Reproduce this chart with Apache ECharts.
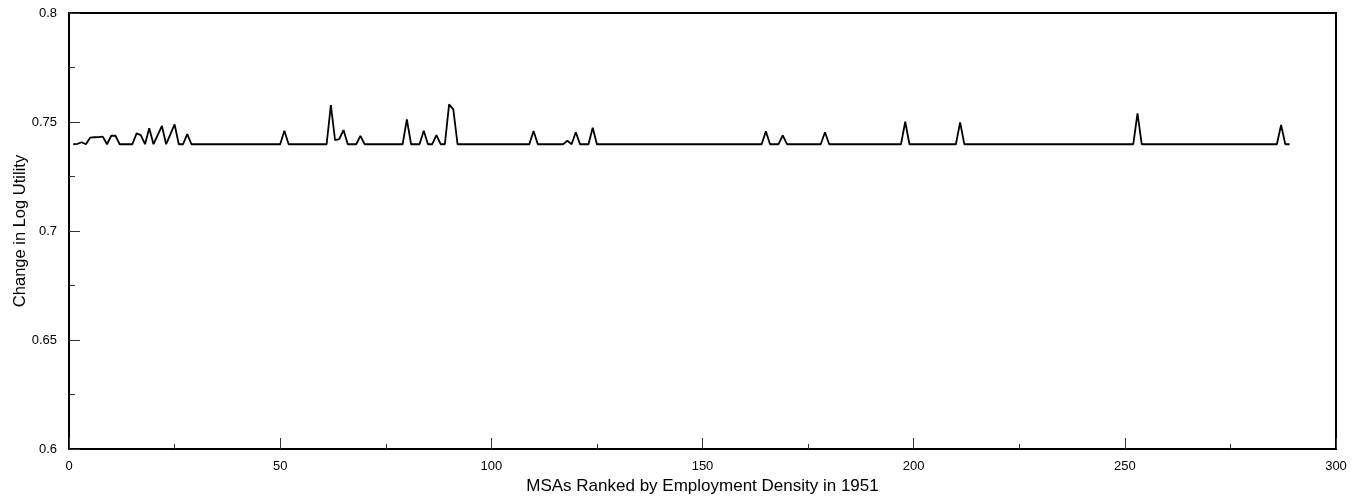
<!DOCTYPE html>
<html>
<head>
<meta charset="utf-8">
<script src="https://cdn.jsdelivr.net/npm/echarts@6/dist/echarts.min.js"></script>
<style>
  html, body { margin: 0; padding: 0; background: #fff; }
  #chart { width: 1366px; height: 500px; }
</style>
</head>
<body>
<div id="chart"></div>
<script>
// flat level that most MSAs sit on
const B = 0.7398

// change in log utility, MSA rank 1..289 (10 per row)
const utilityChange = [
  B, 0.7400, 0.7407, B, 0.7428, 0.7430, 0.7431, 0.7433, B, 0.7437,          // 1-10
  0.7437, B, B, B, B, 0.7448, 0.7440, B, 0.7471, B,                         // 11-20
  0.7440, 0.7482, B, 0.7443, 0.7489, B, B, 0.7444, B, B,                    // 21-30
  B, B, B, B, B, B, B, B, B, B,                                             // 31-40
  B, B, B, B, B, B, B, B, B, B,                                             // 41-50
  0.7460, B, B, B, B, B, B, B, B, B,                                        // 51-60
  B, 0.7577, 0.7417, 0.7422, 0.7463, B, B, B, 0.7436, B,                    // 61-70
  B, B, B, B, B, B, B, B, B, 0.7512,                                        // 71-80
  B, B, B, 0.7460, B, B, 0.7440, B, B, 0.7581,                              // 81-90
  0.7558, B, B, B, B, B, B, B, B, B,                                        // 91-100
  B, B, B, B, B, B, B, B, B, 0.7459,                                        // 101-110
  B, B, B, B, B, B, B, 0.7414, B, 0.7453,                                   // 111-120
  B, B, B, 0.7474, B, B, B, B, B, B,                                        // 121-130
  B, B, B, B, B, B, B, B, B, B,                                             // 131-140
  B, B, B, B, B, B, B, B, B, B,                                             // 141-150
  B, B, B, B, B, B, B, B, B, B,                                             // 151-160
  B, B, B, B, 0.7457, B, B, B, 0.7439, B,                                   // 161-170
  B, B, B, B, B, B, B, B, 0.7453, B,                                        // 171-180
  B, B, B, B, B, B, B, B, B, B,                                             // 181-190
  B, B, B, B, B, B, B, 0.7501, B, B,                                        // 191-200
  B, B, B, B, B, B, B, B, B, B,                                             // 201-210
  0.7498, B, B, B, B, B, B, B, B, B,                                        // 211-220
  B, B, B, B, B, B, B, B, B, B,                                             // 221-230
  B, B, B, B, B, B, B, B, B, B,                                             // 231-240
  B, B, B, B, B, B, B, B, B, B,                                             // 241-250
  B, B, 0.7540, B, B, B, B, B, B, B,                                        // 251-260
  B, B, B, B, B, B, B, B, B, B,                                             // 261-270
  B, B, B, B, B, B, B, B, B, B,                                             // 271-280
  B, B, B, B, B, B, 0.7486, B, B                                            // 281-289
]

const xTicks = [0, 50, 100, 150, 200, 250, 300]
const yTicks = [0.6, 0.65, 0.7, 0.75, 0.8]

let seriesData = []
for (let i = 0; i < utilityChange.length; i++) {
  seriesData.push([i + 1, utilityChange[i]])
}

const font = 'Arial, "Liberation Sans", Helvetica, sans-serif'

let chart = echarts.init(document.getElementById('chart'))
let option = {
  animation: false,
  backgroundColor: '#fff',
  grid: {
    left: 69,
    right: 30,
    top: 13,
    bottom: 51,
    outerBoundsMode: 'none',
    show: true,
    borderColor: '#000',
    borderWidth: 2
  },
  xAxis: {
    type: 'value',
    min: xTicks[0],
    max: xTicks[xTicks.length - 1],
    interval: 50,
    name: 'MSAs Ranked by Employment Density in 1951',
    nameLocation: 'middle',
    nameGap: 29,
    nameMoveOverlap: false,
    nameTextStyle: { fontFamily: font, fontSize: 17, color: '#000' },
    axisLine: { lineStyle: { color: '#000', width: 2 } },
    axisTick: { inside: true, length: 11, lineStyle: { color: '#333', width: 1 } },
    minorTick: { show: true, splitNumber: 2, length: 5, lineStyle: { color: '#333', width: 1 } },
    axisLabel: { margin: 11, fontFamily: font, fontSize: 13, color: '#000' },
    splitLine: { show: false }
  },
  yAxis: {
    type: 'value',
    min: yTicks[0],
    max: yTicks[yTicks.length - 1],
    interval: 0.05,
    name: 'Change in Log Utility',
    nameLocation: 'middle',
    nameGap: 40,
    nameMoveOverlap: false,
    nameTextStyle: { fontFamily: font, fontSize: 16.5, color: '#000' },
    axisLine: { show: true, lineStyle: { color: '#000', width: 2 } },
    axisTick: { show: true, inside: true, length: 11, lineStyle: { color: '#333', width: 1 } },
    minorTick: { show: true, splitNumber: 2, length: 6, lineStyle: { color: '#333', width: 1 } },
    axisLabel: { margin: 12, fontFamily: font, fontSize: 13, color: '#000' },
    splitLine: { show: false }
  },
  series: [
    {
      type: 'line',
      data: seriesData,
      showSymbol: false,
      symbol: 'none',
      lineStyle: { color: '#000', width: 1.8 },
      silent: true
    }
  ]
}
chart.setOption(option)
</script>
</body>
</html>
